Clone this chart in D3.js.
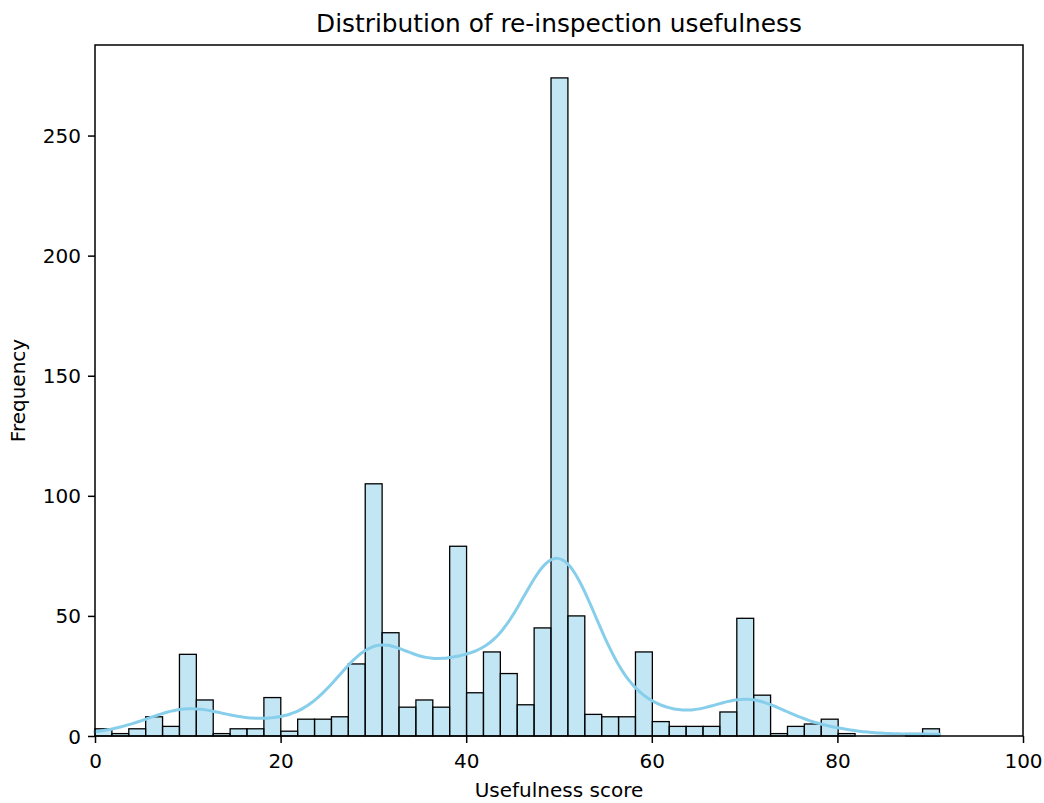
<!DOCTYPE html>
<html>
<head>
<meta charset="utf-8">
<script src="https://cdn.jsdelivr.net/npm/d3@7/dist/d3.min.js"></script>
<style>
  html, body { margin: 0; padding: 0; background: #fff; }
  svg { display: block; font-family: "DejaVu Sans", sans-serif; }
</style>
</head>
<body>
<svg id="chart" width="1044" height="803"></svg>
<script>
// ---- data ----
const title = "Distribution of re-inspection usefulness";
const xLabel = "Usefulness score";
const yLabel = "Frequency";
const binStart = 0;
const binEnd = 91;
const counts = [3,1,3,8,4,34,15,1,3,3,16,2,7,7,8,30,105,43,12,15,12,79,18,35,26,13,45,274,50,9,8,8,35,6,4,4,4,10,49,17,1,4,5,7,1,0,0,0,1,3];
const xTicks = [0,20,40,60,80,100];
const yTicks = [0,50,100,150,200,250];

// ---- layout ----
const svg = d3.select("#chart");
const L = 95, R = 1023, T = 45, B = 736;

const nb = counts.length;
const bw = (binEnd - binStart) / nb;
const bins = counts.map((c, i) => ({x0: binStart + i*bw, x1: binStart + (i+1)*bw, c}));

const x = d3.scaleLinear().domain([0, 100]).range([L, R]);
const y = d3.scaleLinear().domain([0, d3.max(counts) * 1.05]).range([B, T]);

// ---- bars ----
svg.append("g").selectAll("rect").data(bins.filter(d => d.c > 0)).join("rect")
  .attr("x", d => x(d.x0))
  .attr("y", d => y(d.c))
  .attr("width", d => x(d.x1) - x(d.x0))
  .attr("height", d => y(0) - y(d.c))
  .attr("fill", "rgba(135,206,235,0.5)")
  .attr("stroke", "#000")
  .attr("stroke-width", 1.3);

// ---- KDE (gaussian, Scott bandwidth, from binned data) ----
const centers = bins.map(d => (d.x0 + d.x1) / 2);
const n = d3.sum(counts);
const mean = d3.sum(bins, (d, i) => centers[i] * d.c) / n;
const variance = d3.sum(bins, (d, i) => d.c * (centers[i] - mean) ** 2) / (n - 1);
const h = Math.sqrt(variance) * Math.pow(n, -1/5);
const gridN = 200;
const kde = d3.range(gridN).map(k => {
  const xv = binStart + (binEnd - binStart) * k / (gridN - 1);
  let s = 0;
  bins.forEach((d, i) => {
    const z = (xv - centers[i]) / h;
    s += d.c * Math.exp(-0.5 * z * z);
  });
  const dens = s / (n * h * Math.sqrt(2 * Math.PI));
  return [xv, dens * n * bw];
});
svg.append("path")
  .datum(kde)
  .attr("fill", "none")
  .attr("stroke", "#87ceeb")
  .attr("stroke-width", 3)
  .attr("stroke-linecap", "square")
  .attr("d", d3.line().x(d => x(d[0])).y(d => y(d[1])).curve(d3.curveBasis));

// ---- axes ----
const xAxis = svg.append("g").attr("transform", `translate(0,${B})`)
  .call(d3.axisBottom(x).tickValues(xTicks).tickSize(7).tickPadding(6).tickFormat(d3.format("d")));
const yAxis = svg.append("g").attr("transform", `translate(${L},0)`)
  .call(d3.axisLeft(y).tickValues(yTicks).tickSize(7).tickPadding(7).tickFormat(d3.format("d")));
[xAxis, yAxis].forEach(g => {
  g.select(".domain").remove();
  g.selectAll(".tick line").attr("stroke", "#000").attr("stroke-width", 1.5);
  g.selectAll(".tick text").attr("fill", "#000").attr("font-size", 20)
    .attr("font-family", "DejaVu Sans, sans-serif");
});
xAxis.selectAll(".tick text").attr("dy", null).attr("dominant-baseline", "alphabetic").attr("y", 32);
yAxis.selectAll(".tick text").attr("dy", null).attr("dominant-baseline", "central");

// frame
svg.append("rect").attr("x", L).attr("y", T).attr("width", R - L).attr("height", B - T)
  .attr("fill", "none").attr("stroke", "#000").attr("stroke-width", 1.5);

// ---- labels ----
svg.append("text").attr("x", (L + R) / 2).attr("y", 32).attr("text-anchor", "middle")
  .attr("font-size", 24.8).attr("fill", "#000").text(title);
svg.append("text").attr("x", (L + R) / 2).attr("y", 797).attr("text-anchor", "middle")
  .attr("font-size", 20).attr("fill", "#000").text(xLabel);
svg.append("text").attr("transform", `translate(25,${(T + B) / 2}) rotate(-90)`)
  .attr("text-anchor", "middle").attr("font-size", 20).attr("fill", "#000").text(yLabel);
</script>
</body>
</html>
